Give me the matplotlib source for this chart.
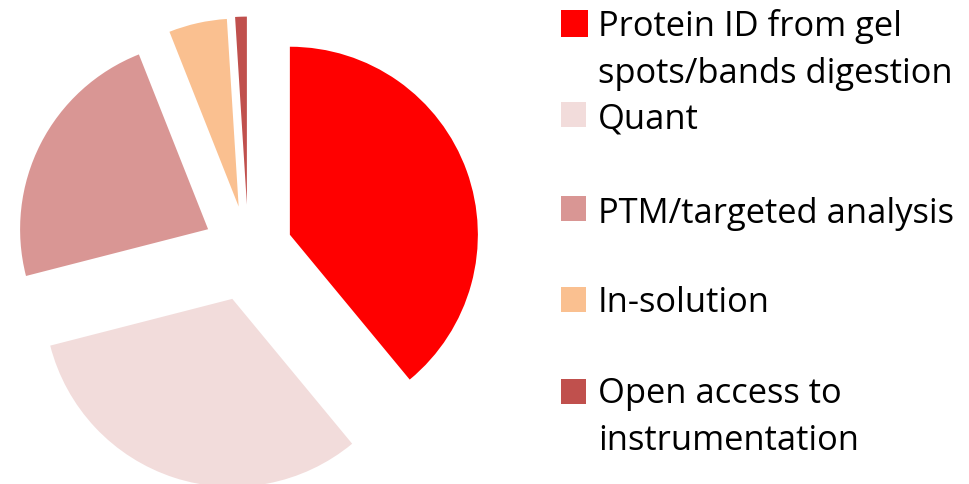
import matplotlib.pyplot as plt
from matplotlib.patches import Rectangle

labels = ["Protein ID from gel\nspots/bands digestion", "Quant",
          "PTM/targeted analysis", "In-solution",
          "Open access to\ninstrumentation"]
values = [39, 32, 23, 5, 1]
colors = ["#FF0000", "#F2DCDB", "#D99694", "#FAC090", "#C0504D"]
explode = [0.235, 0.275, 0.24, 0.235, 0.24]

W, H = 969, 484
R = 188.0          # pie radius in pixels
cx, cy = 248.3, 249.7  # pie centre (pixels from top-left)

fig = plt.figure(figsize=(W / 100, H / 100), dpi=100)
ax = fig.add_axes([0, 0, 1, 1])
ax.pie(values, colors=colors, explode=explode, startangle=90,
       counterclock=False, wedgeprops=dict(linewidth=0))
ax.set_xlim(-cx / R, (W - cx) / R)
ax.set_ylim(-(H - cy) / R, cy / R)
ax.set_aspect('auto')
ax.axis('off')

# legend drawn by hand (pixels from top)
sq_top = [10, 102, 196, 287, 379]
sq_size = [27, 25, 25, 25, 25]
baseline = [36, 128, 223, 312, 403]
for lab, col, t, s, b in zip(labels, colors, sq_top, sq_size, baseline):
    fig.add_artist(Rectangle((561 / W, 1 - (t + s) / H), s / W, s / H,
                             transform=fig.transFigure, color=col, lw=0))
    lines = lab.split("\n")
    for k, line in enumerate(lines):
        fig.text(598 / W, 1 - (b + 47 * k) / H, line, fontsize=24.8,
                 family="Open Sans", color="black", va="baseline", ha="left")

fig.savefig("out.png", dpi=100)
